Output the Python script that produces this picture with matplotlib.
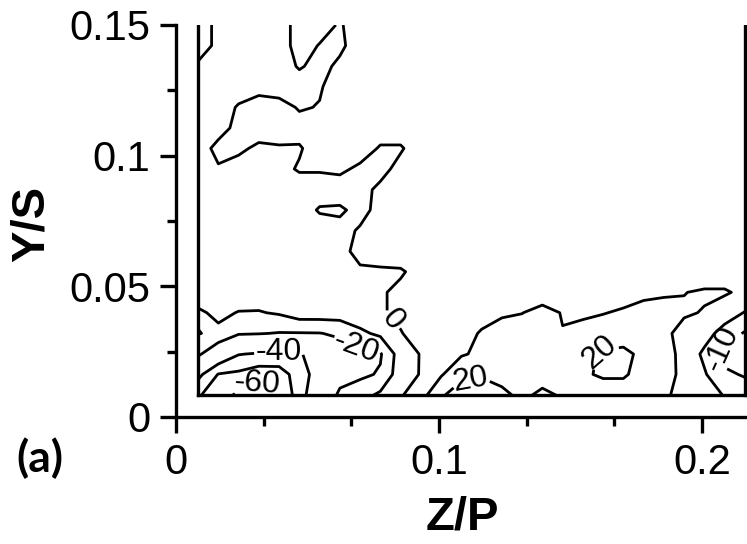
import numpy as np
import matplotlib
matplotlib.use("Agg")
import matplotlib.pyplot as plt

plt.rcParams["font.family"] = ["Liberation Sans", "DejaVu Sans"]

# Measurement grid (spanwise Z/P, wall-normal Y/S)
z_pos = [0.0084, 0.0161, 0.0238, 0.0315, 0.0392, 0.0469, 0.0546, 0.0623,
         0.0700, 0.0777, 0.0854, 0.0931, 0.1008, 0.1085, 0.1162, 0.1239,
         0.1316, 0.1393, 0.1470, 0.1547, 0.1624, 0.1701, 0.1778, 0.1855,
         0.1932, 0.2009, 0.2086, 0.2163]
y_pos = [0.0084, 0.0163, 0.0241, 0.0320, 0.0399, 0.0477, 0.0556, 0.0634,
         0.0713, 0.0792, 0.0870, 0.0949, 0.1028, 0.1106, 0.1185, 0.1264,
         0.1342, 0.1421, 0.1500]

# Measured field, one row per Y/S station, listed from the top (Y/S = 0.15) down
rows_top_down = [
    [6, -3, -5, -5, -5, 4, 4, -1, 5, 5, 6, 6, 5, 5, 4, 4, 5, 5, 6, 6, 5, 5, 5, 4, 4, 5, 5, 5],
    [6, -3, -5, -5, -5, 4, -0.5, -2, 5, 5, 6, 6, 6, 5, 5, 4, 5, 5, 6, 6, 6, 5, 5, 5, 4, 5, 5, 5],
    [-2, -5, -5, -5, -5, 1, -3, 2, 5, 6, 6, 6, 6, 5, 5, 5, 5, 5, 6, 6, 5, 5, 5, 5, 5, 5, 5, 5],
    [-5, -5, -5, -3, -5, -5, -1, 5, 5, 6, 6, 6, 5, 5, 5, 5, 5, 6, 6, 6, 5, 5, 5, 5, 5, 6, 5, 5],
    [-5, -5, 1, 4, 4, -1, 0.5, 5, 5, 5, 6, 6, 5, 5, 5, 5, 6, 6, 6, 5, 5, 5, 5, 6, 6, 6, 5, 5],
    [-5, -4, 3, 5, 5, 4, 5, 5, 5, 5, 5, 5, 5, 5, 5, 6, 6, 6, 5, 5, 5, 5, 6, 6, 6, 5, 5, 5],
    [-5, 3, 2, -2, -1, -1, 5, 5, 5, -1, -1, 5, 5, 5, 5, 6, 6, 5, 5, 5, 5, 6, 6, 6, 5, 5, 5, 5],
    [-5, -1, -4, -5, -3, 1, 1, 2, -2, -3, 3, 5, 5, 5, 5, 5, 5, 5, 5, 5, 6, 6, 6, 5, 5, 5, 5, 5],
    [-5, -5, -5, -5, -5, -5, -5, -5, -3, 2, 5, 5, 5, 5, 5, 5, 5, 5, 5, 6, 6, 6, 5, 5, 5, 5, 5, 5],
    [-5, -5, -5, -5, -5, -5, 1, 1.5, -3, 3, 5, 5, 5, 5, 5, 5, 5, 5, 6, 6, 6, 5, 5, 5, 5, 5, 5, 5],
    [-5, -5, -5, -5, -5, -5, -5, -3, 1, 5, 5, 5, 5, 5, 5, 5, 5, 6, 6, 6, 5, 5, 5, 5, 5, 5, 5, 5],
    [-5, -5, -5, -5, -5, -5, -5, -2, 2, 5, 5, 5, 5, 5, 5, 5, 6, 6, 6, 5, 5, 5, 5, 5, 6, 6, 6, 6],
    [-5, -5, -5, -5, -5, -5, -5, -5, -1, -1.5, -1, 3, 5, 5, 5, 5, 5, 5, 6, 6, 6, 6, 6, 6, 6, 5, 5, 5],
    [-5, -5, -5, -5, -5, -5, -5, -5, -5, -1, 2, 5, 5, 5, 5, 5, 5, 5, 5, 5, 5, 5, 8, 9, 9.8, 11, 11, 8],
    [-11.5, -8, -10.4, -10.6, -9, -5, -5, -5, -4, -1, 2, 5, 6, 7, 8, 9, 9.8, 13, 9.5, 8, 9.5, 11.5, 13, 13, 11, 9.5, 5, -0.5],
    [-9.6, -12, -19, -19.5, -20.5, -20.5, -20.3, -18.5, -12, -8, -0.5, 4, 6, 8, 10.5, 13, 14, 11, 10.3, 14, 16, 16, 15, 12, 7, 4, -4, -11],
    [-18, -30, -39.5, -41, -42, -42, -30, -25, -22, -21, -5, 0.5, 5, 9, 12, 14, 14, 14, 15, 18, 21, 22, 18, 14, 7, -2, -14, -16],
    [-37, -50.5, -52, -56, -55, -45, -35, -24, -22, -19, -4, 0.5, 9, 18, 19, 17, 15, 16, 16, 19, 21, 21, 17, 13, 8, 1, -8, -11],
    [-49, -55, -62, -65, -59.5, -45, -30, -18, -14, -8, -1, 6, 19, 24, 25, 22, 18, 22, 19, 17, 16, 16, 15, 11, 8, 4, -0.5, -4],
]

contour_levels = [-60, -50, -40, -20, -10, 0, 10, 20]

# Where the inline contour labels sit (Z/P, Y/S)
label_spots = [(0.0312, 0.0122), (0.0392, 0.0250), (0.0669, 0.0235),
               (0.0821, 0.0370), (0.1122, 0.0137), (0.1597, 0.0271),
               (0.2090, 0.0250)]

x_major = [0, 0.1, 0.2]
x_major_labels = ["0", "0.1", "0.2"]
x_minor = [0.1 / 3, 0.2 / 3, 0.4 / 3, 0.5 / 3]
y_major = [0, 0.05, 0.1, 0.15]
y_major_labels = ["0", "0.05", "0.1", "0.15"]
y_minor = [0.025, 0.075, 0.125]

field = np.array(rows_top_down)[::-1]

W, H = 747, 544
fig = plt.figure(figsize=(W / 100, H / 100), dpi=100)
ax = fig.add_axes([176 / W, (H - 417) / H, (W - 176) / W, (417 - 25) / H])

cs = ax.contour(z_pos, y_pos, field, levels=contour_levels,
                colors="black", linewidths=2.0,
                linestyles="solid", negative_linestyles="solid")
ax.clabel(cs, manual=label_spots, inline=True, fmt="%d",
          fontsize=23, inline_spacing=3)

# Outline of the measurement plane
edge_kw = dict(color="black", lw=2.4, solid_capstyle="projecting")
ax.plot([z_pos[0], z_pos[0]], [y_pos[-1], y_pos[0]], **edge_kw)
ax.plot([z_pos[0], z_pos[-1]], [y_pos[0], y_pos[0]], **edge_kw)
ax.plot([z_pos[-1], z_pos[-1]], [y_pos[0], y_pos[-1]], **edge_kw)

ax.set_xlim(0, (W - 176) / 2630)
ax.set_ylim(0, 0.15)
ax.set_xticks(x_major)
ax.set_xticklabels(x_major_labels)
ax.set_xticks(x_minor, minor=True)
ax.set_yticks(y_major)
ax.set_yticklabels(y_major_labels)
ax.set_yticks(y_minor, minor=True)

for side in ("top", "right"):
    ax.spines[side].set_visible(False)
for side in ("left", "bottom"):
    ax.spines[side].set_linewidth(2.4)

ax.tick_params(which="major", direction="out", length=11.5, width=2.4,
               labelsize=30, pad=7)
ax.tick_params(which="minor", direction="out", length=6.5, width=2.4)

fig.text(32 / W, 1 - 224 / H, "Y/S", rotation=90, ha="center", va="center",
         fontsize=34, fontweight="bold")
fig.text(462 / W, 1 - 518 / H, "Z/P", ha="center", va="center",
         fontsize=34, fontweight="bold")
fig.text(40 / W, 1 - 458 / H, "(a)", ha="center", va="center",
         fontsize=32, fontweight="bold", family=["Lato", "DejaVu Sans"])

fig.savefig("out.png", dpi=100)
